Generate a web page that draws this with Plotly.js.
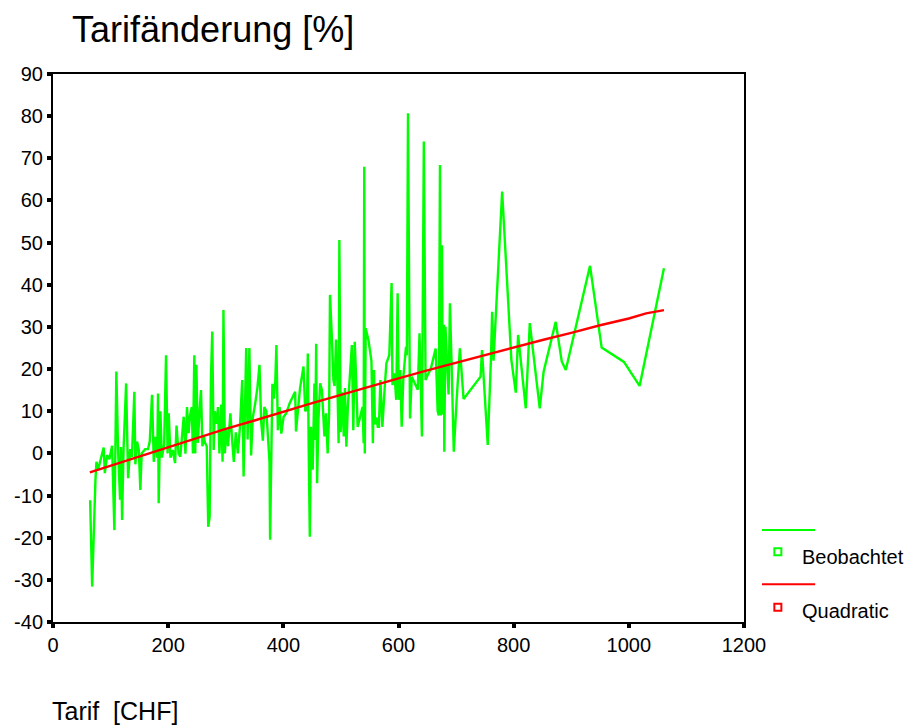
<!DOCTYPE html>
<html>
<head>
<meta charset="utf-8">
<script src="https://cdn.plot.ly/plotly-3.0.1.min.js"></script>
<style>html,body{margin:0;padding:0;background:#fff;}#chart{width:912px;height:727px;}</style>
</head>
<body>
<div id="chart"></div>
<script>
// Observed series (Beobachtet): Tarif [CHF] vs Tarifänderung [%]
const obsX = [64.5,68,73.7,75.4,78.3,88,90,94,98,102.6,106.6,110,113,116.5,118,120,122.5,127,130.4,134,137,141.3,143,146,149,151.7,154,160,165,168,172,175,178,181,182.4,183.5,186.5,189,193,196.3,199,201,204,208,212,214.5,218,
221,224,227,230,232.7,235.5,238,241,243,245.4,247,249,251.5,254.5,257,259.5,262,264,267,269.6,272,274.3,276.6,279,281,284,286.5,289,292,294.5,296,298.5,301,304,308,311,314,317.5,321,324.5,328.6,331,333,335.5,338,341,344,347,351,355,358.6,361.5,364.5,367,370.5,373,376,377,379,381,383.5,386,388,390.5,393.5,396.5,400.5,405,
411,420.5,422,425,429,435,438,441,442.5,444,444.8,446,448,451,454,455.5,457,458.6,461,464,467,469,471.4,474,477,479.5,481,484,487,489,491.5,494,496,497.3,499.5,502,505,507,509.5,512,515.5,518,519,521.5,524,526.5,529,532,535,537.5,539.5,540.5,541.5,543,548,553,555.5,557.5,559,561.5,564,566,568.5,572,
576.5,579,584,588,589.5,593,596,598.5,600.5,603,605.5,608.5,613,614.5,616.5,620,623,629,633.5,636.5,640.7,644,647,650,656,664.5,668,670,672,673.5,675.5,677,679,679.5,681.5,687,689.3,692,696,701,706.6,713,742.5,745,
755,760.5,762.6,765,780,796,803.7,807.7,821,828,836.7,845.3,852,873,883.5,890.5,932.6,952.8,991.5,1018.7,1061];
const obsY = [-11.1,-31.6,-6.3,-2,-3.9,1.4,-4.7,-0.4,-1.4,1.8,-18.2,19.4,0.8,-11,1.5,-15.8,1,16.6,-5.9,1,-0.9,14.6,-2.6,2.8,0.8,-8.7,0,1,1,2.8,13.9,-2,3.9,-1,14.2,-11.8,10,-1,2,23.3,0,9.5,-1,0.8,-2.3,6.6,0,
-0.8,4,8.7,-0.1,11,4.8,9,11,0,23.3,0,21,2.5,10,15,1.7,4,2.5,1.7,-17.4,-15,18.2,28.9,0.8,10,7,11,0,11.6,-2,34,0,6,1.7,9.5,3.3,-2,5,0,6,17.4,-5.5,9.5,25,3.3,25,-0.5,8.5,11.7,15.6,21,7.5,3,11,10,3,-2,-20.5,2.5,16.5,13,17,25.7,5.5,11,4.7,8.7,9.5,
11.9,14.6,5.2,10,15.5,20.6,10,10.5,23.7,1.6,-6.3,-19.8,6.3,-3.9,16.6,3.2,26,-7.1,8,16.6,15,10,4,9.5,0,9.5,37.6,28.5,17.4,16,27,16,2.4,50.6,5,14.5,4,15.5,1.6,11,17.4,21.6,25.7,5.5,26.5,17.4,6.3,7.9,9.5,11,2.4,68,0,29.7,26.7,21.9,2.4,19.8,6.9,8.5,6.3,6.3,17.4,6.3,
16.6,21.4,23.3,40.4,16.2,19,12.7,38,12.7,19.8,6.3,18.2,25.3,23.3,80.7,8.3,18.2,16.6,15.1,28.5,4,74,17.4,18.4,20,24.9,10,9,68.4,9,49.4,9.2,30.5,0.4,30,14,35.6,22.2,0.4,12.7,24.9,12.9,18.2,24.5,
2,22.2,33.6,22,62.1,22.2,14.4,28.1,10.7,30.9,20,10.7,19.4,31.2,21.8,19.8,44.5,25.1,21.7,16,43.9];

// Quadratic fit curve
const fitX = [64,100,150,200,250,300,350,400,450,500,550,600,650,700,750,800,850,900,950,1000,1030,1061];
const fitY = [-4.5,-2.9,-0.7,1.5,3.6,5.8,7.8,9.9,11.9,13.9,15.9,17.8,19.7,21.5,23.4,25.2,26.9,28.6,30.4,32.0,33.2,34.0];

const xTicks = [0,200,400,600,800,1000,1200];
const yTicks = [-40,-30,-20,-10,0,10,20,30,40,50,60,70,80,90];
const legendNames = ["Beobachtet","Quadratic"];
const colors = ["#00ff00","#ff0000"];

const FONT = "Liberation Sans, Arial, sans-serif";

const traces = [
  {x: obsX, y: obsY, type: "scatter", mode: "lines", name: legendNames[0],
   line: {color: colors[0], width: 2.4}, showlegend: false, hoverinfo: "x+y"},
  {x: fitX, y: fitY, type: "scatter", mode: "lines", name: legendNames[1],
   line: {color: colors[1], width: 2.4}, showlegend: false, hoverinfo: "x+y"}
];

// legend geometry (paper coords)
const legLineX0 = 1.026, legLineX1 = 1.103, legMarkX = 1.049, legTextX = 1.081;
const legRows = [
  {lineY: 0.168, markY: 0.128, textY: 0.119},
  {lineY: 0.069, markY: 0.027, textY: 0.020}
];

const shapes = [];
const annotations = [];
legRows.forEach((r, i) => {
  shapes.push({type: "line", xref: "paper", yref: "paper", x0: legLineX0, x1: legLineX1,
               y0: r.lineY, y1: r.lineY, line: {color: colors[i], width: 2}});
  shapes.push({type: "rect", xref: "paper", yref: "paper", xsizemode: "pixel", ysizemode: "pixel",
               xanchor: legMarkX, yanchor: r.markY, x0: -3.5, x1: 3.5, y0: -3.5, y1: 3.5,
               line: {color: colors[i], width: 2}, fillcolor: "rgba(0,0,0,0)"});
  annotations.push({xref: "paper", yref: "paper", x: legTextX, y: r.textY, xanchor: "left", yanchor: "middle",
                    text: legendNames[i], showarrow: false, font: {family: FONT, size: 20, color: "#000"}});
});
annotations.push({xref: "paper", yref: "paper", x: -0.004, y: -0.162, xanchor: "left", yanchor: "middle",
                  text: "Tarif\u00a0 [CHF]", showarrow: false, font: {family: FONT, size: 25, color: "#000"}});

const layout = {
  width: 912, height: 727,
  margin: {l: 53, r: 168, t: 74, b: 105},
  paper_bgcolor: "#fff", plot_bgcolor: "#fff",
  font: {family: FONT, color: "#000"},
  title: {text: "Tarifänderung [%]", xref: "container", yref: "container", x: 0.079, y: 0.96,
          xanchor: "left", yanchor: "middle", font: {family: FONT, size: 36, color: "#000"}},
  xaxis: {range: [0, 1200], tickvals: xTicks, ticktext: xTicks.map(String), showgrid: false, zeroline: false,
          showline: true, linecolor: "#000", linewidth: 2, mirror: true,
          ticks: "outside", ticklen: 4, tickwidth: 4, tickcolor: "#000",
          tickfont: {family: FONT, size: 20, color: "#000"}},
  yaxis: {range: [-40, 90], tickvals: yTicks, ticktext: yTicks.map(String), showgrid: false, zeroline: false,
          showline: true, linecolor: "#000", linewidth: 2, mirror: true,
          ticks: "outside", ticklen: 4, tickwidth: 4, tickcolor: "#000",
          tickfont: {family: FONT, size: 20, color: "#000"}},
  shapes: shapes,
  annotations: annotations,
  showlegend: false
};

Plotly.newPlot("chart", traces, layout, {displayModeBar: false, staticPlot: true});
</script>
</body>
</html>
